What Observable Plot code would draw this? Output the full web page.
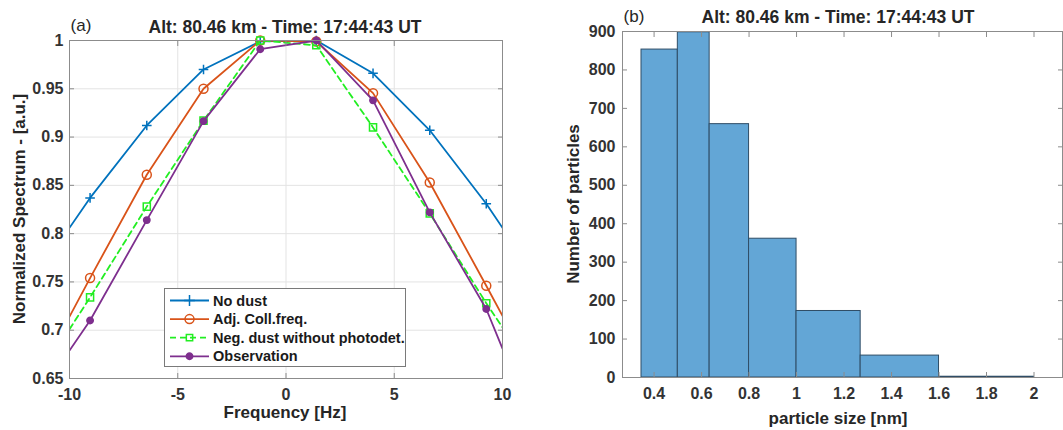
<!DOCTYPE html>
<html><head><meta charset="utf-8">
<script src="https://cdn.jsdelivr.net/npm/d3@7"></script>
<script src="https://cdn.jsdelivr.net/npm/@observablehq/plot@0.6"></script>
<style>
body{margin:0;background:#fff;font-family:"Liberation Sans",Arial,sans-serif;}
#wrap{position:relative;width:1063px;height:430px;overflow:hidden;background:#fff;}
#wrap svg{position:absolute;top:0;}
.abs{position:absolute;white-space:nowrap;color:#262626;transform:translate(-50%,-50%);line-height:1;}
.b{font-weight:bold;}
#legend{position:absolute;left:164px;top:288px;width:240px;height:77px;border:1px solid #7a7a7a;background:#fff;}
#legend svg{position:static;display:block;}
</style></head><body><div id="wrap"></div>
<script>
// ---------- Panel (a) data ----------
const freqHz = [-9.05, -6.43, -3.81, -1.19, 1.40, 4.02, 6.64, 9.25];
const edgeHz = [-10, 10];
const noDust = [0.837, 0.912, 0.970, 0.999, 1.000, 0.966, 0.907, 0.831];
const noDustEdge = [0.806, 0.806];
const adjColl = [0.754, 0.861, 0.950, 1.000, 0.999, 0.9455, 0.853, 0.746];
const adjCollEdge = [0.714, 0.715];
const negDust = [0.734, 0.828, 0.917, 1.000, 0.995, 0.910, 0.821, 0.728];
const negDustEdge = [0.701, 0.703];
const observation = [0.710, 0.814, 0.9165, 0.991, 1.000, 0.938, 0.822, 0.722];
const observationEdge = [0.679, 0.681];
const seriesNames = ["No dust", "Adj. Coll.freq.", "Neg. dust without photodet.", "Observation"];
const xTicksA = [-10, -5, 0, 5, 10];
const yTicksA = [0.65, 0.7, 0.75, 0.8, 0.85, 0.9, 0.95, 1];
const titleText = "Alt: 80.46 km - Time: 17:44:43 UT";

// ---------- Panel (b) data ----------
const binEdges = [0.347, 0.5, 0.634, 0.8, 1.0, 1.27, 1.6, 2.0];
const binCounts = [853, 898, 659, 361, 173, 57, 2];
const xTicksB = [0.4, 0.6, 0.8, 1, 1.2, 1.4, 1.6, 1.8, 2];
const yTicksB = [0, 100, 200, 300, 400, 500, 600, 700, 800, 900];

const styles = [
  {color: "#0072BD", symbol: "plus", fill: "none", dash: null, r: 3.2},
  {color: "#D95319", symbol: "circle", fill: "none", dash: null, r: 4.5},
  {color: "#22EE22", symbol: "square", fill: "none", dash: "6,4", r: 4},
  {color: "#7E2F8E", symbol: "circle", fill: "#7E2F8E", dash: null, r: 3.2}
];
const valueSets = [noDust, adjColl, negDust, observation];
const edgeSets = [noDustEdge, adjCollEdge, negDustEdge, observationEdge];

const pts = [];
const lines = [];
valueSets.forEach((vals, s) => {
  const name = seriesNames[s];
  lines.push({series: name, x: edgeHz[0], y: edgeSets[s][0]});
  vals.forEach((v, i) => { pts.push({series: name, x: freqHz[i], y: v}); lines.push({series: name, x: freqHz[i], y: v}); });
  lines.push({series: name, x: edgeHz[1], y: edgeSets[s][1]});
});

const font = '"Liberation Sans", Arial, sans-serif';
const axisGray = "#8c8c8c";
const tickTxt = "#333";
const tf = 16;

const lineMarks = [];
seriesNames.forEach((name, s) => {
  const st = styles[s];
  lineMarks.push(Plot.line(lines.filter(d => d.series === name), {x: "x", y: "y", stroke: st.color, strokeWidth: 1.8, strokeDasharray: st.dash, clip: true}));
  lineMarks.push(Plot.dot(pts.filter(d => d.series === name), {x: "x", y: "y", symbol: () => st.symbol, r: st.r, stroke: st.color, fill: st.fill, strokeWidth: 1.5}));
});

const left = Plot.plot({
  width: 530, height: 430,
  marginLeft: 69, marginRight: 28, marginTop: 40, marginBottom: 52,
  x: {domain: [-10, 10]},
  y: {domain: [0.65, 1]},
  symbol: {type: "identity"},
  style: {fontFamily: font, fontSize: "16px", fontWeight: "bold", background: "transparent"},
  marks: [
    Plot.gridX(xTicksA, {stroke: "#e3e3e3", strokeOpacity: 1}),
    Plot.gridY(yTicksA, {stroke: "#e3e3e3", strokeOpacity: 1}),
    ...lineMarks,
    Plot.frame({stroke: axisGray}),
    Plot.axisX(xTicksA, {anchor: "bottom", tickSize: -5, tickPadding: 15, fontSize: tf, fontWeight: "bold", stroke: axisGray, fill: tickTxt, label: null, tickFormat: d => String(d)}),
    Plot.axisX(xTicksA, {anchor: "top", tickSize: -5, stroke: axisGray, label: null, tickFormat: () => ""}),
    Plot.axisY(yTicksA, {anchor: "left", tickSize: -5, tickPadding: 11, fontSize: tf, fontWeight: "bold", stroke: axisGray, fill: tickTxt, label: null, tickFormat: d => String(d)}),
    Plot.axisY(yTicksA, {anchor: "right", tickSize: -5, stroke: axisGray, label: null, tickFormat: () => ""})
  ]
});

const bins = binCounts.map((c, i) => ({x1: binEdges[i], x2: binEdges[i + 1], y: c}));

const right = Plot.plot({
  width: 533, height: 430,
  marginLeft: 92, marginRight: 1, marginTop: 31, marginBottom: 53,
  x: {domain: [0.267, 2.12]},
  y: {domain: [0, 900]},
  style: {fontFamily: font, fontSize: "16px", fontWeight: "bold", background: "transparent"},
  marks: [
    Plot.rectY(bins, {x1: "x1", x2: "x2", y: "y", fill: "#63A6D6", stroke: "#2f4d66", strokeWidth: 1}),
    Plot.frame({stroke: axisGray}),
    Plot.axisX(xTicksB, {anchor: "bottom", tickSize: -5, tickPadding: 15, fontSize: tf, fontWeight: "bold", stroke: axisGray, fill: tickTxt, label: null, tickFormat: d => String(d)}),
    Plot.axisX(xTicksB, {anchor: "top", tickSize: -5, stroke: axisGray, label: null, tickFormat: () => ""}),
    Plot.axisY(yTicksB, {anchor: "left", tickSize: -5, tickPadding: 12, fontSize: tf, fontWeight: "bold", stroke: axisGray, fill: tickTxt, label: null, tickFormat: d => String(d)}),
    Plot.axisY(yTicksB, {anchor: "right", tickSize: -5, stroke: axisGray, label: null, tickFormat: () => ""})
  ]
});
right.style.left = "530px";
left.style.left = "0px";

const wrap = document.getElementById("wrap");
wrap.appendChild(left);
wrap.appendChild(right);

function label(text, x, y, cls, size, rotate) {
  const d = document.createElement("div");
  d.className = "abs " + cls;
  d.textContent = text;
  d.style.left = x + "px";
  d.style.top = y + "px";
  d.style.fontSize = size + "px";
  if (rotate) d.style.transform = "translate(-50%,-50%) rotate(-90deg)";
  wrap.appendChild(d);
}
label("(a)", 81, 25, "", 17);
label(titleText, 285, 28, "b", 17.5);
label("Normalized Spectrum - [a.u.]", 18.5, 209, "b", 17, true);
label("Frequency [Hz]", 285, 412, "b", 17);
label("(b)", 634, 16, "", 17);
label(titleText, 838, 18, "b", 17.5);
label("Number of particles", 573, 204, "b", 17, true);
label("particle size [nm]", 838, 418, "b", 17);

// legend
const leg = document.createElement("div");
leg.id = "legend";
const ls = d3.create("svg").attr("width", 240).attr("height", 77);
seriesNames.forEach((name, s) => {
  const st = styles[s];
  const y = 11.5 + s * 18.6;
  ls.append("line").attr("x1", 5).attr("x2", 44).attr("y1", y).attr("y2", y)
    .attr("stroke", st.color).attr("stroke-width", 1.8).attr("stroke-dasharray", st.dash);
  const sym = st.symbol === "plus" ? d3.symbolPlus : st.symbol === "square" ? d3.symbolSquare : d3.symbolCircle;
  const size = st.symbol === "plus" ? 40 : st.symbol === "square" ? 40 : Math.PI * st.r * st.r;
  ls.append("path").attr("d", d3.symbol(sym, size)()).attr("transform", `translate(24.5,${y})`)
    .attr("stroke", st.color).attr("stroke-width", 1.5).attr("fill", st.fill);
  ls.append("text").attr("x", 48).attr("y", y).attr("dy", "0.35em")
    .attr("font-family", font).attr("font-weight", "bold").attr("font-size", 14.5).attr("fill", "#1a1a1a").text(name);
});
leg.appendChild(ls.node());
wrap.appendChild(leg);
</script></body></html>
